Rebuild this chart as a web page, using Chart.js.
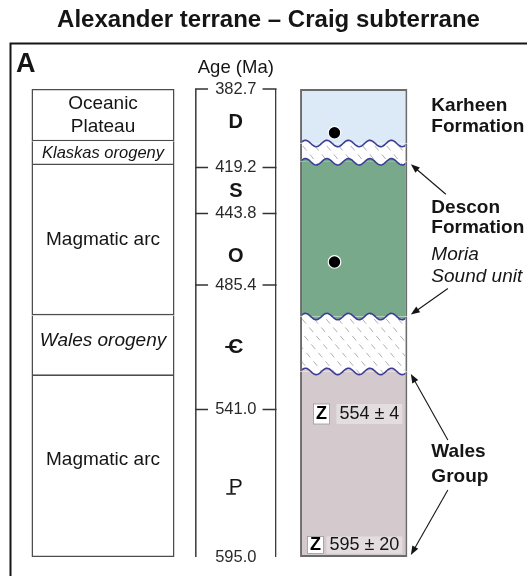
<!DOCTYPE html>
<html>
<head>
<meta charset="utf-8">
<script src="https://cdn.jsdelivr.net/npm/chart.js"></script>
<style>
  html, body { margin: 0; padding: 0; background: #fff; }
  canvas { display: block; }
</style>
</head>
<body>
<canvas id="chart" width="527" height="576"></canvas>
<script>
// ---------------------------------------------------------------
// Data
// ---------------------------------------------------------------
const TITLE = 'Alexander terrane – Craig subterrane';
const PANEL_LETTER = 'A';
const AGE_AXIS_TITLE = 'Age (Ma)';
const COLUMNS = ['Tectonic setting', 'Age (Ma)', 'Fossils', 'Stratigraphy'];

// Geologic time scale (Ma)
const PERIOD_SYMBOLS = ['D', 'S', 'O', 'Ꞓ', 'Ꝑ'];
const PERIOD_BOUNDARIES = [382.7, 419.2, 443.8, 485.4, 541.0, 595.0];

// Tectonic setting through time (Ma)
const SETTING_NAMES = ['Oceanic\nPlateau', 'Klaskas orogeny', 'Magmatic arc', 'Wales orogeny', 'Magmatic arc'];
const SETTING_TOPS  = [382.7, 407, 418, 499, 526];
const SETTING_BASES = [407, 418, 499, 526, 595];

// Stratigraphic units (Ma); null names mark unconformities
const UNIT_NAMES    = ['Karheen\nFormation', null, 'Descon\nFormation', null, 'Wales\nGroup'];
const UNIT_SUBUNITS = [null, null, 'Moria\nSound unit', null, null];
const UNIT_TOPS     = [382.7, 408, 416.5, 499.5, 524];
const UNIT_BASES    = [408, 416.5, 499.5, 524, 595];

// Fossil localities (Ma)
const FOSSIL_AGES = [403, 472];

// Detrital zircon ages (Ma)
const ZIRCON_AGES   = [554, 595];
const ZIRCON_ERRORS = [4, 20];

// ---------------------------------------------------------------
// Styles and layout
// ---------------------------------------------------------------
const FAMILY = '"Liberation Sans", Arial, "Noto Sans", "DejaVu Sans", sans-serif';
const INK = '#151515';
const font = (size, weight = 'normal', style = 'normal') => `${style} ${weight} ${size}px ${FAMILY}`;

const UNIT_COLORS = ['#dce9f6', null, '#78a98b', null, '#d4cace'];
const WAVE_COLOR = '#3d3d96';
const HATCH_COLOR = '#b0b0b0';

// column placement, px from the left edge of the chart area
const COLUMN_OFFSETS = [93, 225.8, 324.5, 343.7];
const SETTING_WIDTH = 143, AGE_WIDTH = 81.5, STRATA_WIDTH = 107.3;
const STRATA_BORDER = 2;
// relative drawn height of each period band (the time axis is stretched per period)
const PERIOD_WEIGHTS = [78.6, 45.9, 71.5, 124.5, 147.5];

const FRAME_TOP = 43.5;
const SETTING_STYLE = [
  { size: 19, italic: false, dy: 0, lh: 23.6 },
  { size: 16.5, italic: true, dy: 0, lh: 20 },
  { size: 19, italic: false, dy: 0, lh: 22 },
  { size: 19, italic: true, dy: -5, lh: 22 },
  { size: 19, italic: false, dy: -7, lh: 22 }
];
const PERIOD_LABEL_DY = [-6, 1, 7, 0, 4];
// barred period symbols are composed from a base letter and a stroke,
// the installed fonts only carry tiny fallback glyphs for them
const BARRED_SYMBOLS = {
  'Ꞓ': { base: 'C', bar: 'waist', weight: 'bold' },
  'Ꝑ': { base: 'P', bar: 'foot', weight: 'normal' }
};
const UNIT_LABEL_STYLE = [
  { dy: 0, gap: 21.7, subGap: 0, subLh: 0 },
  null,
  { dy: 3, gap: 20.5, subGap: 26.7, subLh: 21.8 },
  null,
  { dy: 0, gap: 25, subGap: 0, subLh: 0 }
];
// arrows from the unit labels to unit boundaries
const ARROWS = [
  { unit: 2, edge: 'top',  dx: 35, dy: 30 },
  { unit: 2, edge: 'base', dx: 37, dy: -26 },
  { unit: 4, edge: 'top',  dx: 37, dy: 66 },
  { unit: 4, edge: 'base', dx: 37, dy: -65 }
];
// zircon age tags: anchored to a boundary age, nudged in px
const ZIRCON_TAGS = [
  { anchor: 541.0, dy: 4.5, gap: 7, boxH: 20 },
  { anchor: 595.0, dy: -12, gap: 3, boxH: 17 }
];

// ---------------------------------------------------------------
// Scales
// ---------------------------------------------------------------
class ColumnScale extends Chart.CategoryScale {
  static id = 'columns';
  getPixelForValue(value) {
    if (typeof value !== 'number') value = this.parse(value);
    if (value === null || value === undefined || isNaN(value)) return NaN;
    return this.left + this.options.offsets[value];
  }
  getPixelForTick(index) {
    const t = this.ticks[index];
    return t ? this.getPixelForValue(t.value) : NaN;
  }
  getValueForPixel(pixel) {
    const offs = this.options.offsets;
    let best = 0;
    for (let i = 1; i < offs.length; i++) {
      if (Math.abs(this.left + offs[i] - pixel) < Math.abs(this.left + offs[best] - pixel)) best = i;
    }
    return best;
  }
}

class StretchedAgeScale extends Chart.LinearScale {
  static id = 'stretchedAge';
  _decimalForAge(v) {
    const b = this.options.breaks, w = this.options.weights;
    const total = w.reduce((s, x) => s + x, 0);
    let acc = 0;
    for (let i = 0; i < w.length; i++) {
      if (v <= b[i + 1] || i === w.length - 1) {
        return (acc + (v - b[i]) / (b[i + 1] - b[i]) * w[i]) / total;
      }
      acc += w[i];
    }
    return 1;
  }
  getPixelForValue(value) {
    if (value === null || value === undefined || isNaN(value)) return NaN;
    return this.getPixelForDecimal(this._decimalForAge(value));
  }
  getValueForPixel(pixel) {
    const b = this.options.breaks, w = this.options.weights;
    const total = w.reduce((s, x) => s + x, 0);
    let d = this.getDecimalForPixel(pixel) * total, acc = 0;
    for (let i = 0; i < w.length; i++) {
      if (d <= acc + w[i] || i === w.length - 1) return b[i] + (d - acc) / w[i] * (b[i + 1] - b[i]);
      acc += w[i];
    }
    return b[b.length - 1];
  }
}
Chart.register(ColumnScale, StretchedAgeScale);

// ---------------------------------------------------------------
// Drawing helpers
// ---------------------------------------------------------------
const WAVE_AMP = 3.2, WAVE_LEN = 21.5;
function traceWave(ctx, x0, x1, y, startNew) {
  const step = x1 > x0 ? 1 : -1;
  const base = Math.min(x0, x1);
  for (let x = x0; step > 0 ? x <= x1 : x >= x1; x += step) {
    const yy = y - WAVE_AMP * Math.sin((x - base) / WAVE_LEN * 2 * Math.PI);
    if (x === x0 && startNew) ctx.moveTo(x, yy); else ctx.lineTo(x, yy);
  }
}

function drawHatch(ctx, left, right, top, bottom) {
  ctx.strokeStyle = HATCH_COLOR;
  ctx.lineWidth = 1;
  ctx.setLineDash([6, 5]);
  const h = bottom - top + 12;
  for (let x = left - h; x < right + 12; x += 12) {
    ctx.beginPath();
    ctx.moveTo(x, top - 6);
    ctx.lineTo(x + h / 1.2, top - 6 + h);
    ctx.stroke();
  }
  ctx.setLineDash([]);
}

function drawUnconformities(chart, meta) {
  const ctx = chart.ctx;
  meta.data.forEach((bar, i) => {
    if (UNIT_NAMES[i] !== null) return;
    const left = bar.x - bar.width / 2 + STRATA_BORDER;
    const right = bar.x + bar.width / 2 - STRATA_BORDER;
    const top = Math.min(bar.y, bar.base), bottom = Math.max(bar.y, bar.base);
    ctx.save();
    ctx.beginPath();
    ctx.rect(left, top - 10, right - left, bottom - top + 20);
    ctx.clip();
    // the neighbouring units fill the troughs of the wavy contacts
    ctx.fillStyle = UNIT_COLORS[i - 1];
    ctx.fillRect(left, top, right - left, WAVE_AMP + 1);
    ctx.fillStyle = UNIT_COLORS[i + 1];
    ctx.fillRect(left, bottom - WAVE_AMP - 1, right - left, WAVE_AMP + 1);
    // the hiatus body between both contacts
    ctx.beginPath();
    traceWave(ctx, left - 2, right + 2, top, true);
    traceWave(ctx, right + 2, left - 2, bottom, false);
    ctx.closePath();
    ctx.fillStyle = '#ffffff';
    ctx.fill();
    ctx.save();
    ctx.clip();
    drawHatch(ctx, left, right, top, bottom);
    ctx.restore();
    ctx.strokeStyle = WAVE_COLOR;
    ctx.lineWidth = 1.6;
    ctx.beginPath(); traceWave(ctx, left - 2, right + 2, top, true); ctx.stroke();
    ctx.beginPath(); traceWave(ctx, left - 2, right + 2, bottom, true); ctx.stroke();
    ctx.restore();
  });
}

function drawArrow(ctx, x0, y0, x1, y1) {
  const a = Math.atan2(y1 - y0, x1 - x0), L = 9, W = 3.4;
  ctx.beginPath();
  ctx.moveTo(x0, y0);
  ctx.lineTo(x1 - L * 0.8 * Math.cos(a), y1 - L * 0.8 * Math.sin(a));
  ctx.stroke();
  ctx.beginPath();
  ctx.moveTo(x1, y1);
  ctx.lineTo(x1 - L * Math.cos(a) + W * Math.sin(a), y1 - L * Math.sin(a) - W * Math.cos(a));
  ctx.lineTo(x1 - L * Math.cos(a) - W * Math.sin(a), y1 - L * Math.sin(a) + W * Math.cos(a));
  ctx.closePath();
  ctx.fill();
}

// period symbol centred on (x, y); barred symbols get their stroke drawn in
function drawPeriodSymbol(ctx, sym, x, y) {
  const barred = BARRED_SYMBOLS[sym];
  if (!barred) {
    ctx.font = font(20, 'bold');
    ctx.fillText(sym, x, y);
    return;
  }
  const size = 21;
  ctx.font = font(size, barred.weight);
  ctx.fillText(barred.base, x, y);
  const w = ctx.measureText(barred.base).width;
  const left = x - w / 2;
  const baseline = y + 0.3465 * size;
  ctx.save();
  ctx.lineWidth = barred.weight === 'bold' ? 2 : 1.6;
  ctx.beginPath();
  if (barred.bar === 'waist') {
    const yy = baseline - 0.36 * size;
    ctx.moveTo(left - 3, yy); ctx.lineTo(left + 0.55 * w, yy);
  } else {
    const yy = baseline - 0.6;
    ctx.moveTo(left - 2.5, yy); ctx.lineTo(left + 0.5 * w, yy);
  }
  ctx.stroke();
  ctx.restore();
}

const barTop = bar => Math.min(bar.y, bar.base);
const barBottom = bar => Math.max(bar.y, bar.base);
const barMid = bar => (bar.y + bar.base) / 2;

// ---------------------------------------------------------------
// Annotation plugin: labels, age ticks, arrows and contacts
// ---------------------------------------------------------------
const DS = { fossils: 0, strata: 1, periods: 2, setting: 3 };

const columnArt = {
  id: 'columnArt',
  afterDatasetDraw(chart, args) {
    if (args.index === DS.strata) drawUnconformities(chart, args.meta);
  },
  afterDraw(chart) {
    const { ctx, chartArea: area, scales: { y } } = chart;
    ctx.save();
    ctx.fillStyle = INK;
    ctx.strokeStyle = INK;

    // panel frame
    ctx.lineWidth = 2;
    ctx.beginPath();
    ctx.moveTo(area.left + 0.5, chart.height);
    ctx.lineTo(area.left + 0.5, FRAME_TOP);
    ctx.lineTo(chart.width, FRAME_TOP);
    ctx.stroke();

    ctx.font = font(27, 'bold');
    ctx.textAlign = 'left';
    ctx.textBaseline = 'alphabetic';
    ctx.fillText(PANEL_LETTER, area.left + 6, 71.5);

    // tectonic setting labels
    ctx.textAlign = 'center';
    ctx.textBaseline = 'middle';
    chart.getDatasetMeta(DS.setting).data.forEach((bar, i) => {
      const st = SETTING_STYLE[i];
      const lines = SETTING_NAMES[i].split('\n');
      ctx.font = font(st.size, 'normal', st.italic ? 'italic' : 'normal');
      const cy = barMid(bar) + st.dy;
      lines.forEach((ln, k) => ctx.fillText(ln, bar.x, cy + (k - (lines.length - 1) / 2) * st.lh));
    });

    // age column: period symbols, boundary ages and ticks
    const periodBars = chart.getDatasetMeta(DS.periods).data;
    periodBars.forEach((bar, i) => drawPeriodSymbol(ctx, PERIOD_SYMBOLS[i], bar.x, barMid(bar) + PERIOD_LABEL_DY[i]));

    const ref = periodBars[0];
    const lx = ref.x - ref.width / 2, rx = ref.x + ref.width / 2;
    ctx.font = font(18.5);
    ctx.fillText(AGE_AXIS_TITLE, ref.x, area.top - 21);

    ctx.font = font(16.5);
    ctx.fillStyle = '#2a2a2a';
    ctx.strokeStyle = '#333';
    ctx.lineWidth = 1.5;
    PERIOD_BOUNDARIES.forEach((age, i) => {
      const py = y.getPixelForValue(age);
      ctx.fillText(age.toFixed(1), ref.x, py);
      if (i < PERIOD_BOUNDARIES.length - 1) {
        ctx.beginPath();
        ctx.moveTo(lx, py); ctx.lineTo(lx + 13, py);
        ctx.moveTo(rx - 14, py); ctx.lineTo(rx, py);
        ctx.stroke();
      }
    });

    // unit labels beside the stratigraphic column
    const strata = chart.getDatasetMeta(DS.strata).data;
    const sRight = strata[0].x + strata[0].width / 2;
    ctx.fillStyle = INK;
    ctx.strokeStyle = INK;
    ctx.textAlign = 'left';
    strata.forEach((bar, i) => {
      const st = UNIT_LABEL_STYLE[i];
      if (!st || !UNIT_NAMES[i]) return;
      const rows = UNIT_NAMES[i].split('\n').map((t, k) => ({ t, bold: true, off: k * st.gap }));
      if (UNIT_SUBUNITS[i]) {
        const start = rows[rows.length - 1].off + st.subGap;
        UNIT_SUBUNITS[i].split('\n').forEach((t, k) => rows.push({ t, bold: false, off: start + k * st.subLh }));
      }
      const span = rows[rows.length - 1].off;
      const y0 = barMid(bar) + st.dy - span / 2;
      rows.forEach(r => {
        ctx.font = r.bold ? font(19, 'bold') : font(19, 'normal', 'italic');
        ctx.fillText(r.t, sRight + 24, y0 + r.off);
      });
    });

    ctx.lineWidth = 1.1;
    ARROWS.forEach(a => {
      const bar = strata[a.unit];
      const hy = a.edge === 'top' ? barTop(bar) + 2.5 : barBottom(bar) - 2;
      const hx = sRight + 3.5;
      drawArrow(ctx, hx + a.dx, hy + a.dy, hx, hy);
    });

    // zircon age tags
    ZIRCON_AGES.forEach((age, i) => {
      const tag = ZIRCON_TAGS[i];
      const cy = y.getPixelForValue(tag.anchor) + tag.dy;
      const text = `${age} ± ${ZIRCON_ERRORS[i]}`;
      ctx.font = font(18);
      const tw = ctx.measureText(text).width;
      const vRight = sRight - 5;
      const vLeft = vRight - tw - 6;
      ctx.fillStyle = '#e3dde0';
      ctx.fillRect(vLeft, cy - tag.boxH / 2, tw + 6, tag.boxH);
      ctx.fillStyle = INK;
      ctx.textAlign = 'center';
      ctx.fillText(text, vLeft + (tw + 6) / 2, cy + 0.5);
      const zRight = vLeft - tag.gap, zLeft = zRight - 16;
      ctx.fillStyle = '#ffffff';
      ctx.fillRect(zLeft, cy - tag.boxH / 2, 16, tag.boxH);
      ctx.strokeStyle = '#9a9a9a';
      ctx.lineWidth = 0.8;
      ctx.strokeRect(zLeft, cy - tag.boxH / 2, 16, tag.boxH);
      ctx.fillStyle = '#000';
      ctx.font = font(18, 'bold');
      ctx.fillText('Z', zLeft + 8, cy + 0.5);
    });
    ctx.restore();
  }
};

// ---------------------------------------------------------------
// Chart
// ---------------------------------------------------------------
const pairs = (tops, bases, col) => tops.map((t, i) => ({ x: col, y: [t, bases[i]] }));

new Chart(document.getElementById('chart'), {
  type: 'bar',
  data: {
    labels: COLUMNS,
    datasets: [
      {
        type: 'line',
        label: 'Fossil localities',
        order: 0,
        data: FOSSIL_AGES.map(a => ({ x: COLUMNS[2], y: a })),
        showLine: false,
        pointRadius: 6.3,
        pointHoverRadius: 6.3,
        pointBackgroundColor: '#000',
        pointBorderColor: '#ffffff',
        pointBorderWidth: 1.2
      },
      {
        label: 'Stratigraphy',
        order: 1,
        grouped: false,
        barThickness: STRATA_WIDTH,
        data: pairs(UNIT_TOPS, UNIT_BASES, COLUMNS[3]),
        backgroundColor: UNIT_COLORS.map(c => c || 'rgba(0,0,0,0)'),
        borderColor: '#6b6b6b',
        borderWidth: ctx => ({
          left: STRATA_BORDER, right: STRATA_BORDER,
          top: ctx.dataIndex === 0 ? STRATA_BORDER : 0,
          bottom: ctx.dataIndex === UNIT_TOPS.length - 1 ? STRATA_BORDER : 0
        }),
        borderSkipped: false,
        inflateAmount: 0
      },
      {
        label: 'Period',
        order: 2,
        grouped: false,
        barThickness: AGE_WIDTH,
        data: pairs(PERIOD_BOUNDARIES.slice(0, -1), PERIOD_BOUNDARIES.slice(1), COLUMNS[1]),
        backgroundColor: 'rgba(0,0,0,0)',
        borderColor: '#333333',
        borderWidth: { left: 1.5, right: 1.5, top: 0, bottom: 0 },
        borderSkipped: false,
        inflateAmount: 0
      },
      {
        label: 'Tectonic setting',
        order: 3,
        grouped: false,
        barThickness: SETTING_WIDTH,
        data: pairs(SETTING_TOPS, SETTING_BASES, COLUMNS[0]),
        backgroundColor: '#ffffff',
        borderColor: '#4d4d4d',
        borderWidth: ctx => ({
          left: 1.5, right: 1.5,
          top: ctx.dataIndex === 0 ? 1.6 : 0,
          bottom: 1.6
        }),
        borderSkipped: false,
        inflateAmount: 0
      }
    ]
  },
  options: {
    responsive: false,
    animation: false,
    events: [],
    layout: { padding: { top: 0, bottom: 19, left: 10, right: 0 } },
    scales: {
      x: { type: 'columns', display: false, offsets: COLUMN_OFFSETS },
      y: {
        type: 'stretchedAge', display: false, reverse: true,
        min: PERIOD_BOUNDARIES[0], max: PERIOD_BOUNDARIES[PERIOD_BOUNDARIES.length - 1],
        breaks: PERIOD_BOUNDARIES, weights: PERIOD_WEIGHTS
      }
    },
    plugins: {
      legend: { display: false },
      tooltip: { enabled: false },
      title: {
        display: true,
        text: TITLE,
        color: INK,
        font: { family: FAMILY, size: 24, weight: 'bold' },
        padding: { top: 6, bottom: 54.2 }
      }
    }
  },
  plugins: [columnArt]
});
</script>
</body>
</html>
